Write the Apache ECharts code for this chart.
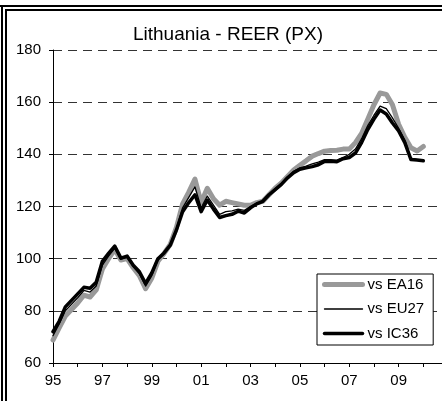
<!DOCTYPE html>
<html>
<head>
<meta charset="utf-8">
<script src="https://cdn.jsdelivr.net/npm/echarts@6/dist/echarts.min.js"></script>
<style>
  html, body { margin: 0; padding: 0; background: #fff; }
  #chart { width: 442px; height: 401px; }
</style>
</head>
<body>
<div id="chart"></div>
<script>
// REER Lithuania, quarterly from 1995Q1 to 2010Q1
const startYear = 1995;
const seriesNames = ['vs EA16', 'vs EU27', 'vs IC36'];

const ea16 = [
    68.8, 73.5, 78.0, 80.5,
    83.0, 86.0, 85.3, 88.0,
    96.0, 100.0, 103.5, 99.5,
    100.0, 96.5, 93.5, 88.5,
    92.5, 99.0, 102.0, 105.5,
    112.0, 121.0, 125.5, 130.5,
    121.5, 127.0, 123.0, 120.5,
    122.0, 121.5, 121.0, 120.5,
    120.5, 121.5, 122.0, 124.5,
    127.0, 129.0, 131.5, 134.0,
    135.8, 137.5, 139.3, 140.3,
    141.2, 141.5, 141.6, 142.0,
    142.0, 144.5, 148.0, 153.5,
    159.0, 163.5, 163.0, 159.0,
    151.5, 146.5, 142.5, 141.3,
    143.0
];
const eu27 = [
    70.5, 75.0, 80.0, 82.5,
    85.0, 87.8, 87.2, 89.5,
    97.5, 101.0, 104.0, 99.8,
    100.5, 97.0, 94.2, 89.5,
    93.5, 99.5, 102.0, 105.3,
    111.5, 119.5, 123.5, 127.5,
    119.5, 124.0, 120.5, 117.0,
    118.0, 118.3, 119.0, 118.5,
    120.0, 121.2, 122.0, 124.5,
    126.8, 128.7, 131.2, 133.5,
    134.8, 135.5, 136.3, 137.0,
    138.0, 138.0, 137.8, 138.8,
    140.0, 142.0, 146.0, 151.0,
    155.0, 158.5, 157.5, 154.0,
    150.0, 145.5, 138.5, 138.0,
    138.0
];
const ic36 = [
    72.0, 76.0, 81.5, 84.0,
    86.5, 89.0, 88.7, 91.0,
    99.0, 102.0, 104.8, 100.2,
    101.0, 97.5, 95.0, 90.5,
    94.5, 100.0, 102.2, 105.2,
    111.0, 118.0, 121.5, 124.5,
    118.0, 122.5, 119.0, 115.8,
    116.5, 117.0, 118.2, 117.5,
    119.5, 121.0, 122.0, 124.5,
    126.5, 128.5, 131.0, 133.0,
    134.3, 134.8, 135.3, 136.0,
    137.3, 137.3, 137.2, 138.3,
    138.8, 140.5, 144.5, 149.5,
    153.5, 157.0, 155.5, 152.0,
    149.0, 144.5, 138.0, 137.8,
    137.5
];

// line widths per series, same order as seriesNames
const lineWidths = { 'vs EA16': 5, 'vs EU27': 1.3, 'vs IC36': 3.5 };
const lineColors = { 'vs EA16': '#999', 'vs EU27': '#000', 'vs IC36': '#000' };

function toPoints(values) {
    return values.map((v, i) => [startYear + i / 4, v]);
}

function makeSeries(name, values) {
    return {
        name: name, type: 'line', data: toPoints(values),
        showSymbol: false, symbol: 'none',
        lineStyle: { color: lineColors[name], width: lineWidths[name], cap: 'round', join: 'round' },
        itemStyle: { color: lineColors[name] }
    };
}

const font = "'Liberation Sans', Arial, sans-serif";
const chart = echarts.init(document.getElementById('chart'));

const option = {
    backgroundColor: '#fff',
    animation: false,
    textStyle: { fontFamily: font },
    graphic: [
        // double frame (top and left)
        { type: 'rect', shape: { x: 0, y: 5, width: 442, height: 2 }, style: { fill: '#000' } },
        { type: 'rect', shape: { x: 5, y: 9, width: 437, height: 2 }, style: { fill: '#000' } },
        { type: 'rect', shape: { x: 1, y: 7, width: 2, height: 394 }, style: { fill: '#000' } },
        { type: 'rect', shape: { x: 5, y: 9, width: 2, height: 392 }, style: { fill: '#000' } },
        {
            type: 'text', x: 228, y: 35,
            style: {
                text: 'Lithuania - REER (PX)', fill: '#000', font: '19px ' + font,
                align: 'center', verticalAlign: 'middle'
            }
        }
    ],
    grid: { left: 53, top: 50, width: 395, height: 313, outerBoundsMode: 'none' },
    legend: {
        data: seriesNames.map(n => ({
            name: n,
            lineStyle: { width: lineWidths[n], color: lineColors[n], cap: 'round' }
        })),
        orient: 'vertical',
        left: 317,
        top: 274,
        padding: [3, 9, 4, 5],
        itemWidth: 38,
        itemHeight: 16,
        itemGap: 9.5,
        itemTextGap: 2,
        backgroundColor: '#fff',
        borderColor: '#000',
        borderWidth: 1,
        borderRadius: 0,
        textStyle: { color: '#000', fontSize: 15, fontFamily: font },
        itemStyle: { color: 'rgba(0,0,0,0)', borderWidth: 0, opacity: 0 },
        selectedMode: false
    },
    xAxis: {
        type: 'value',
        min: 1995,
        max: 2011,
        interval: 1,
        axisLine: { lineStyle: { color: '#000', width: 1 } },
        axisTick: { show: true, length: 4, lineStyle: { color: '#000' } },
        axisLabel: {
            color: '#000', fontSize: 15, fontFamily: font, margin: 10,
            showMaxLabel: false,
            formatter: v => (v % 2 === 1 && v < 2011) ? String(v).slice(2) : ''
        },
        splitLine: { show: false }
    },
    yAxis: {
        type: 'value',
        min: 60,
        max: 180,
        interval: 20,
        axisLine: { show: true, lineStyle: { color: '#000', width: 1 } },
        axisTick: { show: true, length: 4, lineStyle: { color: '#000' } },
        axisLabel: { color: '#000', fontSize: 15, fontFamily: font, margin: 12 },
        splitLine: { show: true, lineStyle: { color: '#333', width: 1, type: [9, 6] } }
    },
    // EU27 drawn last so the thin line stays visible over IC36
    series: [
        makeSeries('vs EA16', ea16),
        makeSeries('vs IC36', ic36),
        makeSeries('vs EU27', eu27)
    ]
};

chart.setOption(option);
</script>
</body>
</html>
